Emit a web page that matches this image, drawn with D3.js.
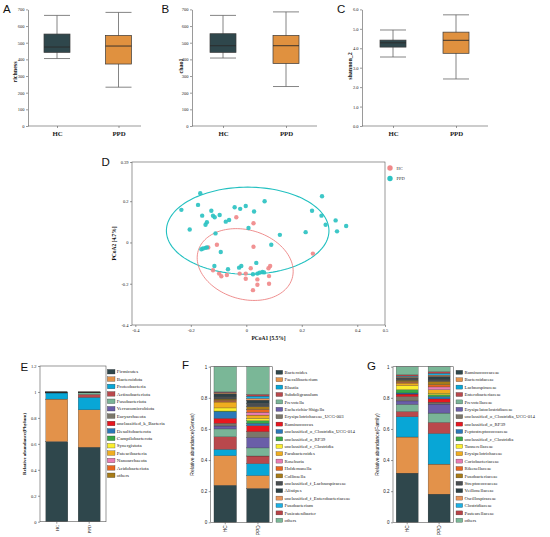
<!DOCTYPE html>
<html><head><meta charset="utf-8">
<script src="https://cdn.jsdelivr.net/npm/d3@7"></script>
<style>body{margin:0;background:#fff}svg{display:block}</style>
</head><body>
<svg id="c" width="550" height="537"></svg>
<script>
// ---------------- DATA ----------------
const groups = ["HC","PPD"];
// box stats: [lower whisker, Q1, median, Q3, upper whisker]
const richnessHC = [405,442,474,552,664];
const richnessPPD = [233,372,480,544,682];
const chao1HC = [408,442,482,554,664];
const chao1PPD = [237,375,482,544,685];
const shannonHC = [3.55,4.06,4.28,4.42,4.94];
const shannonPPD = [2.42,3.74,4.41,4.83,5.72];
const richTicks = [0,100,200,300,400,500,600,700];
const shanTicks = [0,1,2,3,4,5,6];

// PCoA points
const pcoaHC_x = [-0.036,0.026,0.026,-0.106,-0.137,-0.120,-0.098,-0.090,-0.070,-0.024,-0.002,-0.002,0.016,0.040,0.040,0.024,0.080,0.086,0.082,0.082,0.240];
const pcoaHC_y = [0.122,0.093,-0.021,-0.011,-0.024,-0.135,-0.151,-0.164,-0.158,-0.151,-0.151,-0.176,-0.125,-0.179,-0.205,-0.231,-0.125,-0.114,-0.163,-0.200,-0.054];
const pcoaPPD_x = [-0.234,-0.166,-0.174,-0.159,-0.204,-0.142,-0.147,-0.126,-0.120,-0.114,-0.096,-0.074,-0.062,-0.042,-0.022,-0.002,0.028,0.066,0.008,-0.111,-0.162,-0.156,-0.147,-0.142,-0.092,-0.115,-0.066,-0.026,-0.018,0.036,0.024,0.040,0.048,0.058,0.064,0.090,0.121,0.237,0.214,0.271,0.273,0.286,0.322,0.327,0.360];
const pcoaPPD_y = [0.158,0.239,0.182,0.130,0.063,0.098,0.086,0.154,0.130,0.122,0.133,0.101,0.109,0.171,0.163,0.177,0.150,0.200,0.070,0.044,-0.033,-0.029,-0.026,-0.024,-0.046,-0.114,-0.130,-0.122,-0.114,-0.099,-0.154,-0.151,-0.146,-0.143,-0.145,-0.011,0.037,0.154,0.050,0.130,0.224,0.086,0.107,0.054,0.080];
// ellipse params: [cx, cy, A, C, D]  x=cx+A cos t, y=cy+C cos t+D sin t
const ellipseHC = [-0.004,-0.107,0.173,-0.0325,0.171];
const ellipsePPD = [0.005,0.057,0.293,0,0.211];
const pcoaXTicks = [-0.4,-0.2,0,0.2,0.4,0.5];
const pcoaYTicks = [-0.4,-0.2,0,0.2,0.39];

// Phylum
const phylumNames = ["Firmicutes","Bacteroidota","Proteobacteria","Actinobacteriota","Fusobacteriota","Verrucomicrobiota","Euryarchaeota","unclassified_k_Bacteria","Desulfobacterota","Campilobacterota","Synergistota","Patescibacteria","Nanoarchaeota","Acidobacteriota","others"];
const phylumHC = [0.618,0.327,0.047,0.003,0.001,0.001,0.001,0.0005,0.0005,0.0003,0.0002,0.0001,0.0001,0.0001,0.0001];
const phylumPPD = [0.574,0.288,0.096,0.023,0.013,0.002,0.001,0.001,0.0005,0.0005,0.0003,0.0002,0.0001,0.0001,0.0003];
// Genus
const genusNames = ["Bacteroides","Faecalibacterium","Blautia","Subdoligranulum","Prevotella","Escherichia-Shigella","Erysipelotrichaceae_UCG-003","Ruminococcus","unclassified_o_Clostridia_UCG-014","unclassified_o_RF39","unclassified_c_Clostridia","Parabacteroides","Roseburia","Holdemanella","Collinsella","unclassified_f_Lachnospiraceae","Alistipes","unclassified_f_Enterobacteriaceae","Fusobacterium","Fusicatenibacter","others"];
const genusHC = [0.238,0.190,0.041,0.081,0.050,0.019,0.017,0.032,0.043,0.004,0.020,0.038,0.003,0.008,0.008,0.014,0.020,0.005,0.003,0.004,0.162];
const genusPPD = [0.218,0.082,0.077,0.049,0.052,0.068,0.036,0.039,0.015,0.017,0.015,0.021,0.018,0.019,0.017,0.021,0.021,0.011,0.015,0.011,0.178];
// Family
const familyNames = ["Ruminococcaceae","Bacteroidaceae","Lachnospiraceae","Enterobacteriaceae","Prevotellaceae","Erysipelatoclostridiaceae","unclassified_o_Clostridia_UCG-014","unclassified_o_RF39","Peptostreptococcaceae","unclassified_c_Clostridia","Tannerellaceae","Erysipelotrichaceae","Coriobacteriaceae","Rikenellaceae","Fusobacteriaceae","Streptococcaceae","Veillonellaceae","Oscillospiraceae","Clostridiaceae","Pasteurellaceae","others"];
const familyHC = [0.316,0.232,0.130,0.034,0.046,0.022,0.028,0.016,0.007,0.021,0.026,0.017,0.003,0.005,0.010,0.010,0.008,0.005,0.004,0.008,0.052];
const familyPPD = [0.181,0.193,0.197,0.071,0.060,0.058,0.012,0.021,0.015,0.011,0.011,0.022,0.018,0.014,0.022,0.014,0.018,0.008,0.012,0.010,0.032];

const palette = ["#2f474c","#e3924a","#08a6d6","#b9484c","#79b497","#6a5ea8","#7b776a","#e8161f","#2a78b8","#38a846","#fbee2d","#f0ad1f","#e87db3","#e8661e","#a77b17","#4a4e50","#2d4045","#e9955a","#1cb0e3","#b84347","#7ab797"];
const boxColors = {HC:"#2f474c", PPD:"#e0913f"};
const pcoaColors = {HC:"#f0898a", PPD:"#2dc2c2"};

// ---------------- DRAW ----------------
const svg = d3.select("#c");
const SERIF = "'Liberation Serif','Times New Roman',serif";
const SANS = "'Liberation Sans',Arial,sans-serif";
const AX = "#555";

function letter(t,x,y){
  svg.append("text").attr("x",x).attr("y",y).text(t)
    .attr("font-family",SANS).attr("font-size",11.5).attr("fill","#111");
}
function styleAxis(g,font,size){
  g.selectAll("path").attr("stroke",AX).attr("stroke-width",0.6);
  g.selectAll("line").attr("stroke",AX).attr("stroke-width",0.6);
  g.selectAll("text").attr("font-family",font).attr("font-size",size).attr("fill","#222");
}

function boxPanel(o){
  const y = d3.scaleLinear().domain(o.domain).range([126,9.4]);
  const x = d3.scalePoint().domain(groups).range([o.hcX,o.ppdX]);
  const g = svg.append("g");
  const ya = g.append("g").attr("transform",`translate(${o.x0},0)`)
    .call(d3.axisLeft(y).tickValues(o.ticks).tickSize(2).tickSizeOuter(0).tickPadding(1.5));
  styleAxis(ya,SERIF,4.5);
  g.append("line").attr("x1",o.x0).attr("x2",o.x1).attr("y1",126).attr("y2",126)
    .attr("stroke",AX).attr("stroke-width",0.6);
  const xa = g.append("g").attr("transform","translate(0,126)")
    .call(d3.axisBottom(x).tickSize(2).tickPadding(2.5));
  xa.select("path").remove();
  styleAxis(xa,SERIF,6.8);
  xa.selectAll("text").attr("font-weight","bold").attr("dy","0.75em");
  const bw = 26;
  o.stats.forEach((s,i)=>{
    const gx = x(groups[i]);
    g.append("line").attr("x1",gx).attr("x2",gx).attr("y1",y(s[0])).attr("y2",y(s[4]))
      .attr("stroke","#666").attr("stroke-width",0.8);
    [s[0],s[4]].forEach(v=>g.append("line").attr("x1",gx-bw/2).attr("x2",gx+bw/2)
      .attr("y1",y(v)).attr("y2",y(v)).attr("stroke","#666").attr("stroke-width",0.8));
    g.append("rect").attr("x",gx-bw/2).attr("width",bw).attr("y",y(s[3])).attr("height",y(s[1])-y(s[3]))
      .attr("fill",boxColors[groups[i]]).attr("stroke","#3a3a3a").attr("stroke-width",0.7);
    g.append("line").attr("x1",gx-bw/2).attr("x2",gx+bw/2).attr("y1",y(s[2])).attr("y2",y(s[2]))
      .attr("stroke","#2a2a2a").attr("stroke-width",0.9);
  });
  g.append("text").attr("transform",`translate(${o.labelX},${o.labelY}) rotate(-90)`)
    .attr("text-anchor","middle").attr("font-family",SERIF).attr("font-weight","bold")
    .attr("font-size",6).attr("fill","#111").text(o.label);
}

boxPanel({x0:28,x1:141,hcX:57,ppdX:118.5,domain:[0,700],ticks:richTicks,stats:[richnessHC,richnessPPD],label:"richness",labelX:16.5,labelY:72});
boxPanel({x0:192,x1:317,hcX:223,ppdX:286,domain:[0,700],ticks:richTicks,stats:[chao1HC,chao1PPD],label:"chao1",labelX:182.5,labelY:66});
boxPanel({x0:362,x1:488,hcX:393,ppdX:456,domain:[0,6],ticks:shanTicks,stats:[shannonHC,shannonPPD],label:"shannon_2",labelX:351.5,labelY:66});
letter("A",3,13); letter("B",161.5,13); letter("C",337,13);

// ---- PCoA ----
(function(){
  const L=132,R=385,T=162,B=325;
  const x = d3.scaleLinear().domain([-0.412,0.5]).range([L,R]);
  const y = d3.scaleLinear().domain([-0.4,0.39]).range([B,T]);
  const g = svg.append("g");
  g.append("rect").attr("x",L).attr("y",T).attr("width",R-L).attr("height",B-T)
    .attr("fill","none").attr("stroke",AX).attr("stroke-width",0.6);
  const xa = g.append("g").attr("transform",`translate(0,${B})`)
    .call(d3.axisBottom(x).tickValues(pcoaXTicks).tickSize(2).tickSizeOuter(0).tickPadding(1.5).tickFormat(d=>String(d)));
  xa.select("path").remove(); styleAxis(xa,SERIF,4.5);
  const ya = g.append("g").attr("transform",`translate(${L},0)`)
    .call(d3.axisLeft(y).tickValues(pcoaYTicks).tickSize(2).tickSizeOuter(0).tickPadding(1.5).tickFormat(d=>String(d)));
  ya.select("path").remove(); styleAxis(ya,SERIF,4.5);
  const ell = (p)=>{
    const pts = d3.range(0,361,3).map(a=>{const t=a*Math.PI/180;
      return [x(p[0]+p[2]*Math.cos(t)), y(p[1]+p[3]*Math.cos(t)+p[4]*Math.sin(t))];});
    return d3.line()(pts)+"Z";
  };
  g.append("path").attr("d",ell(ellipsePPD)).attr("fill","none").attr("stroke","#22c0c0").attr("stroke-width",1.1);
  g.append("path").attr("d",ell(ellipseHC)).attr("fill","none").attr("stroke","#ec8282").attr("stroke-width",0.9);
  const pts = (xs,ys,c)=>xs.forEach((v,i)=>g.append("circle").attr("cx",x(v)).attr("cy",y(ys[i])).attr("r",2.2).attr("fill",c).attr("opacity",0.92));
  pts(pcoaHC_x,pcoaHC_y,pcoaColors.HC);
  pts(pcoaPPD_x,pcoaPPD_y,pcoaColors.PPD);
  g.append("text").attr("x",(L+R)/2+10).attr("y",340).attr("text-anchor","middle")
    .attr("font-family",SERIF).attr("font-weight","bold").attr("font-size",5.5).attr("fill","#111").text("PCoA1 [5.5%]");
  g.append("text").attr("transform",`translate(115.5,${(T+B)/2}) rotate(-90)`).attr("text-anchor","middle")
    .attr("font-family",SERIF).attr("font-weight","bold").attr("font-size",5.5).attr("fill","#111").text("PCoA2 [4.7%]");
  groups.forEach((k,i)=>{
    g.append("circle").attr("cx",390).attr("cy",168+i*10.5).attr("r",2.7).attr("fill",pcoaColors[k]);
    g.append("text").attr("x",396.5).attr("y",168+i*10.5).attr("dy","0.35em").attr("font-family",SERIF)
      .attr("font-size",4.5).attr("fill","#333").text(k);
  });
  letter("D",101.5,165.5);
})();

// ---- stacked bars ----
function stackPanel(o){
  const y = d3.scaleLinear().domain([0,o.maxV]).range([o.yBot,o.yTop]);
  const x = d3.scaleBand().domain(groups).range([o.axisX,o.rightX]).paddingInner(o.pIn).paddingOuter(o.pOut);
  const g = svg.append("g");
  [o.hc,o.ppd].forEach((vals,gi)=>{
    let cum=0;
    vals.forEach((v,i)=>{
      g.append("rect").attr("x",x(groups[gi])).attr("width",x.bandwidth())
        .attr("y",y(cum+v)).attr("height",y(cum)-y(cum+v))
        .attr("fill",palette[i]).attr("stroke","#222").attr("stroke-width",0.25);
      cum+=v;
    });
  });
  g.append("rect").attr("x",o.axisX).attr("y",o.yTop).attr("width",o.rightX-o.axisX).attr("height",o.yBot-o.yTop)
    .attr("fill","none").attr("stroke",AX).attr("stroke-width",0.6);
  const ya = g.append("g").attr("transform",`translate(${o.axisX},0)`)
    .call(d3.axisLeft(y).tickValues(o.ticks).tickSize(2).tickSizeOuter(0).tickPadding(1.5).tickFormat(d=>String(d)));
  ya.select("path").remove(); styleAxis(ya,o.tickFont,4.5);
  const xa = g.append("g").attr("transform",`translate(0,${o.yBot})`)
    .call(d3.axisBottom(x).tickSize(2).tickFormat(""));
  xa.select("path").remove(); styleAxis(xa,o.tickFont,4.5);
  groups.forEach(k=>{
    g.append("text").attr("transform",`translate(${x(k)+x.bandwidth()/2},${o.yBot+3}) rotate(-90)`)
      .attr("text-anchor","end").attr("dy","0.35em").attr("font-family",o.tickFont).attr("font-size",4.8)
      .attr("fill","#222").text(k);
  });
  g.append("text").attr("transform",`translate(${o.labelX},${(o.yTop+o.yBot)/2}) rotate(-90)`)
    .attr("text-anchor","middle").attr("font-family",o.labelFont).attr("font-weight",o.labelWeight)
    .attr("font-size",5).attr("fill","#111").text(o.label);
  o.names.forEach((n,i)=>{
    const cy = o.legY0 + i*7.4;
    g.append("rect").attr("x",o.legX).attr("y",cy-o.legH/2).attr("width",o.legW).attr("height",o.legH)
      .attr("fill",palette[i]).attr("stroke","#333").attr("stroke-width",0.3);
    g.append("text").attr("x",o.legX+o.legW+1.8).attr("y",cy).attr("dy","0.35em")
      .attr("font-family",SERIF).attr("font-size",o.legFont).attr("fill","#222").text(n);
  });
}

stackPanel({names:phylumNames,hc:phylumHC,ppd:phylumPPD,axisX:40,rightX:106,yTop:366,yBot:521.7,maxV:1.2,
  ticks:[0,0.2,0.4,0.6,0.8,1,1.2],pIn:0.32,pOut:0.18,tickFont:SERIF,label:"Relative abundance(Phylum)",labelX:25.5,
  labelFont:SERIF,labelWeight:"bold",legX:107.3,legY0:371.7,legW:7.7,legH:4.6,legFont:5});
stackPanel({names:genusNames,hc:genusHC,ppd:genusPPD,axisX:210.7,rightX:272.5,yTop:366.7,yBot:522.3,maxV:1,
  ticks:[0,0.2,0.4,0.6,0.8,1],pIn:0.31,pOut:0.1,tickFont:SANS,label:"Relative abundance(Genus)",labelX:194,
  labelFont:SANS,labelWeight:"normal",legX:276,legY0:372.3,legW:6.7,legH:4,legFont:4.8});
stackPanel({names:familyNames,hc:familyHC,ppd:familyPPD,axisX:393,rightX:453.3,yTop:366.7,yBot:522.3,maxV:1,
  ticks:[0,0.2,0.4,0.6,0.8,1],pIn:0.31,pOut:0.1,tickFont:SANS,label:"Relative abundance(Family)",labelX:378.5,
  labelFont:SANS,labelWeight:"normal",legX:456,legY0:372.3,legW:6.7,legH:4,legFont:4.8});
letter("E",20.5,370.5); letter("F",182,369); letter("G",367,370);
</script>
</body></html>
